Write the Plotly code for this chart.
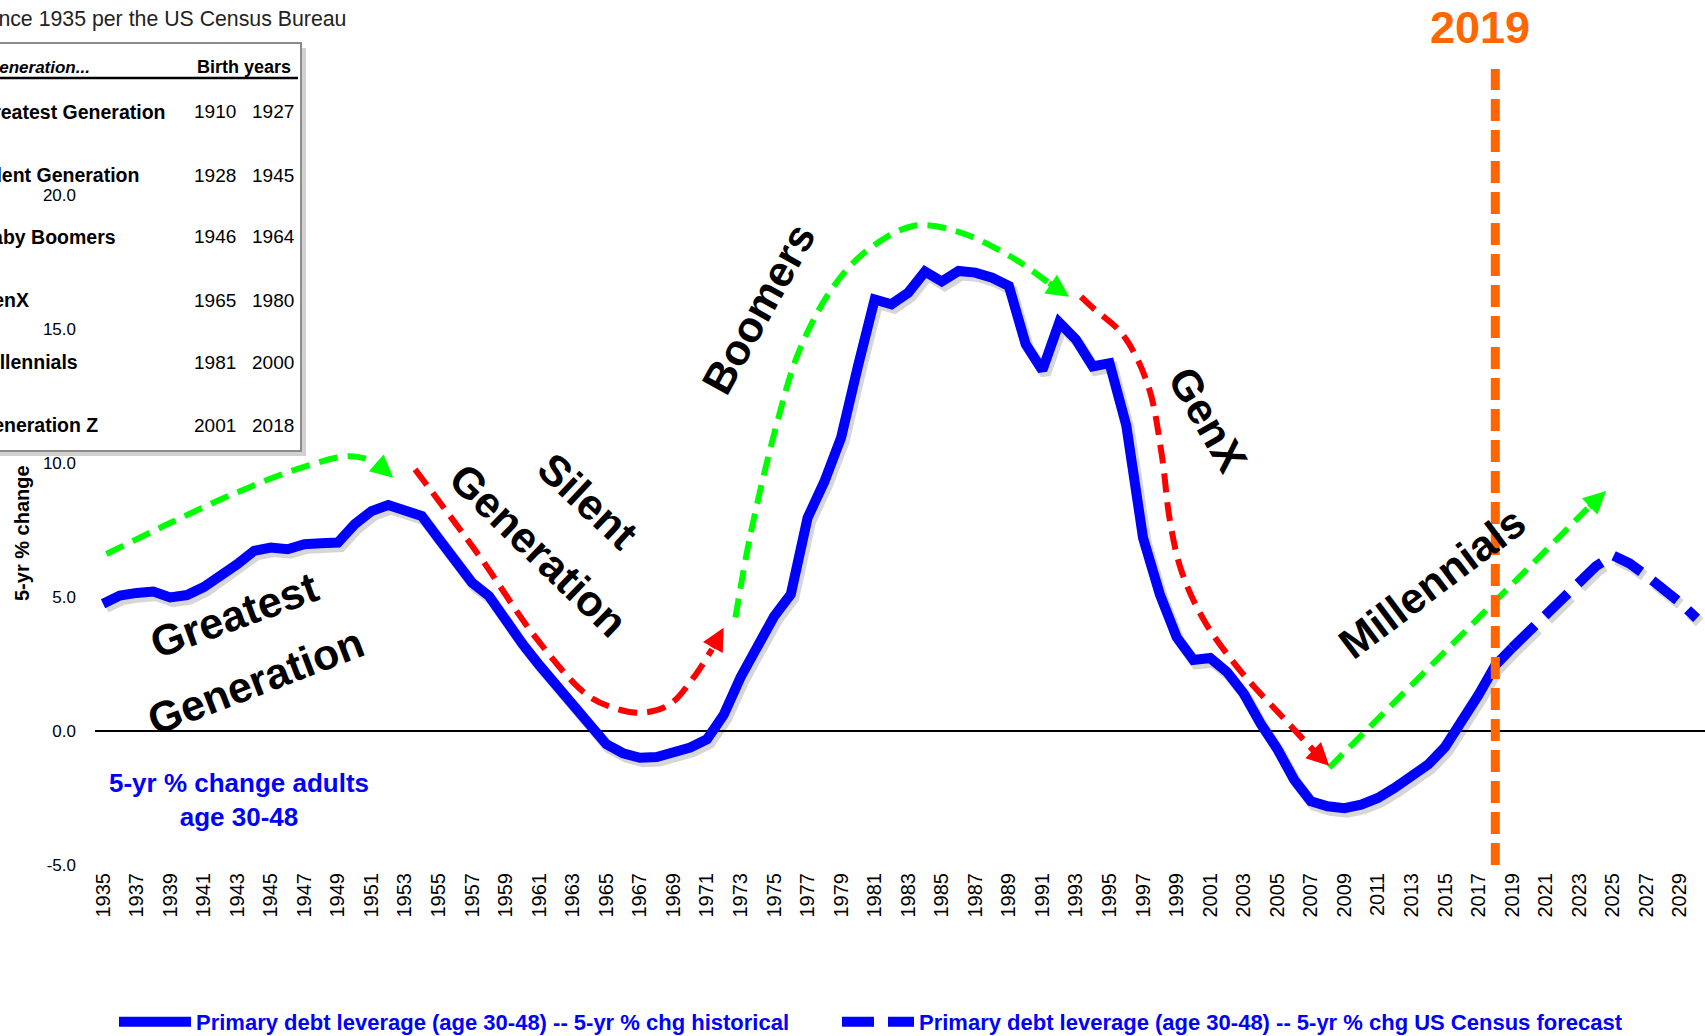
import plotly.graph_objects as go

# ---------------------------------------------------------------------------
# Data: primary debt leverage population (age 30-48), 5-yr % change
# ---------------------------------------------------------------------------
years_hist = list(range(1935, 2020))
debt_leverage_hist = [
    4.75, 5.05, 5.15, 5.20, 4.98, 5.07, 5.37, 5.78, 6.22, 6.72,   # 1935-1944
    6.84, 6.78, 6.97, 7.00, 7.03, 7.71, 8.20, 8.43, 8.20, 8.02,   # 1945-1954
    7.18, 6.33, 5.53, 5.04, 4.07, 3.25, 2.46, 1.72, 0.96, 0.14,   # 1955-1964
    -0.49, -0.83, -1.00, -0.97, -0.81, -0.62, -0.31, 0.60, 2.00, 3.10,  # 1965-1974
    4.27, 5.10, 7.95, 9.30, 10.95, 13.60, 16.10, 15.92, 16.35, 17.14,  # 1975-1984
    16.77, 17.16, 17.10, 16.91, 16.60, 14.43, 13.46, 15.24, 14.60, 13.60,  # 1985-1994
    13.72, 11.40, 7.20, 5.10, 3.50, 2.65, 2.72, 2.20, 1.40, 0.28,  # 1995-2004
    -0.67, -1.81, -2.62, -2.81, -2.88, -2.75, -2.50, -2.12, -1.72, -1.25,  # 2005-2014
    -0.60, 0.30, 1.35, 2.45, 3.10,                                   # 2015-2019
]
years_forecast = list(range(2019, 2031))
debt_leverage_forecast = [3.10, 3.70, 4.40, 4.95, 5.55, 6.15, 6.55, 6.25, 5.80, 5.35, 4.80, 4.20]

tick_years = list(range(1935, 2030, 2))
y_ticks = [-5, 0, 5, 10, 15, 20]
y_tick_text = [f"{v:.1f}" for v in y_ticks]

divider_year = 2018
current_year_label = "2019"

# Generations table
generations = ["Greatest Generation", "Silent Generation", "Baby Boomers",
               "GenX", "Millennials", "Generation Z"]
birth_start = [1910, 1928, 1946, 1965, 1981, 2001]
birth_end = [1927, 1945, 1964, 1980, 2000, 2018]

# Trend arrows: (year, % change) waypoints; last point is the arrow tip
trend_arrows = [
    dict(color="#00FF00",
         years=[1935.2, 1938.8, 1942.8, 1946.7, 1949.7, 1951.2, 1952.3],
         values=[6.60, 7.70, 8.85, 9.80, 10.25, 10.05, 9.45]),
    dict(color="#FF0000",
         years=[1953.6, 1957.5, 1960.8, 1963.8, 1965.4, 1967.2, 1968.8, 1970.2, 1971.3, 1972.0],
         values=[9.76, 6.47, 3.48, 1.37, 0.87, 0.68, 1.00, 1.99, 3.05, 3.85]),
    dict(color="#00FF00",
         years=[1972.7, 1973.6, 1975.1, 1976.5, 1978.5, 1980.5, 1983.3, 1985.9, 1989.1, 1991.3, 1992.6],
         values=[4.23, 7.34, 11.30, 14.18, 16.54, 17.90, 18.84, 18.64, 17.70, 16.75, 16.20]),
    dict(color="#FF0000",
         years=[1993.3, 1994.0, 1995.8, 1997.3, 1998.1, 1998.6, 1999.3, 2000.7, 2002.9, 2005.3, 2007.2, 2008.1],
         values=[16.20, 15.79, 14.78, 12.89, 10.37, 7.85, 5.95, 4.06, 2.17, 0.53, -0.75, -1.30]),
    dict(color="#00FF00",
         years=[2008.1, 2023.5, 2024.6],
         values=[-1.37, 8.30, 8.95]),
]

# Generation names written along the curve: (text, year, value, angle)
generation_labels = [
    ("Greatest", 1942.8, 4.31, -20),
    ("Generation", 1944.1, 1.88, -21),
    ("Silent", 1963.9, 8.57, 43),
    ("Generation", 1960.95, 6.75, 44),
    ("Boomers", 1974.05, 15.76, -61),
    ("GenX", 2000.9, 11.62, 60),
    ("Millennials", 2014.2, 5.53, -37),
]

# ---------------------------------------------------------------------------
# Layout geometry (pixels)
# ---------------------------------------------------------------------------
W, H = 1705, 1036
PLOT_L, PLOT_R, PLOT_T, PLOT_B = 95, 1705, 0, 865
X_RANGE = [1934.52, 2030.5]
Y_RANGE = [-5.0, 27.27]
px_per_year = (PLOT_R - PLOT_L) / (X_RANGE[1] - X_RANGE[0])
px_per_unit = (PLOT_B - PLOT_T) / (Y_RANGE[1] - Y_RANGE[0])


def px(x):
    return (x - PLOT_L) / (PLOT_R - PLOT_L)


def py(y):
    return 1 - (y - PLOT_T) / (PLOT_B - PLOT_T)


SANS = "Liberation Sans, Arial, sans-serif"
BLUE = "#0000FF"
ORANGE = "#FF6600"

fig = go.Figure()

# Soft drop shadow of the main series (drawn on a pixel-shifted copy of the axes)
shadow = dict(color="rgba(0,0,0,0.16)", width=11)
fig.add_trace(go.Scatter(x=years_hist, y=debt_leverage_hist, mode="lines",
                         line=shadow, xaxis="x", yaxis="y",
                         showlegend=False, hoverinfo="skip"))
fig.add_trace(go.Scatter(x=years_forecast, y=debt_leverage_forecast, mode="lines",
                         line=dict(shadow, dash="32px,14px"), xaxis="x", yaxis="y",
                         showlegend=False, hoverinfo="skip"))

# Trend arrows (dashed body)
for arrow in trend_arrows:
    fig.add_trace(go.Scatter(
        x=arrow["years"][:-1], y=arrow["values"][:-1], mode="lines",
        line=dict(color=arrow["color"], width=6, dash="19px,10px", shape="spline"),
        xaxis="x2", yaxis="y2", showlegend=False, hoverinfo="skip"))

# Main series
fig.add_trace(go.Scatter(
    x=years_hist, y=debt_leverage_hist, mode="lines",
    name="Primary debt leverage (age 30-48) -- 5-yr % chg historical",
    line=dict(color=BLUE, width=10), xaxis="x2", yaxis="y2", legend="legend"))
fig.add_trace(go.Scatter(
    x=years_forecast, y=debt_leverage_forecast, mode="lines",
    name="Primary debt leverage (age 30-48) -- 5-yr % chg US Census forecast",
    line=dict(color=BLUE, width=10, dash="32px,14px"), xaxis="x2", yaxis="y2",
    legend="legend2"))

annotations = []

# Arrow heads
for arrow in trend_arrows:
    annotations.append(dict(
        x=arrow["years"][-1], y=arrow["values"][-1],
        ax=arrow["years"][-2], ay=arrow["values"][-2],
        xref="x2", yref="y2", axref="x2", ayref="y2",
        showarrow=True, arrowhead=2, arrowwidth=6, arrowsize=0.75,
        arrowcolor=arrow["color"], standoff=0, text=""))

# Generation names
for text, yr, val, ang in generation_labels:
    annotations.append(dict(
        x=yr, y=val, xref="x2", yref="y2", text=text, textangle=ang,
        showarrow=False, xanchor="center", yanchor="middle",
        font=dict(family=SANS, size=43, color="black", weight="bold")))

# Current-year marker label
annotations.append(dict(
    x=divider_year, y=py(27), xref="x2", yref="paper", xshift=-15,
    text=current_year_label, showarrow=False, xanchor="center", yanchor="middle",
    font=dict(family=SANS, size=45, color=ORANGE, weight="bold")))

# Series description
annotations.append(dict(
    x=px(239), y=py(800), xref="paper", yref="paper",
    text="5-yr % change adults<br>age 30-48", showarrow=False,
    xanchor="center", yanchor="middle", align="center",
    font=dict(family=SANS, size=26, color=BLUE, weight="bold")))

# Y-axis title
annotations.append(dict(
    x=px(22), y=py(533), xref="paper", yref="paper", text="5-yr % change",
    textangle=-90, showarrow=False, xanchor="center", yanchor="middle",
    font=dict(family=SANS, size=20, color="black", weight="bold")))

# Subtitle
annotations.append(dict(
    x=px(348), y=py(19), xref="paper", yref="paper",
    text="since 1935 per the US Census Bureau", showarrow=False,
    xanchor="right", yanchor="middle",
    font=dict(family=SANS, size=21.3, color="#222222")))

# Generations table
TABLE_TEXT_X = -24
annotations.append(dict(
    x=px(TABLE_TEXT_X + 8), y=py(67), xref="paper", yref="paper",
    text="<i>Generation...</i>", showarrow=False, xanchor="left", yanchor="middle",
    font=dict(family=SANS, size=17, color="black", weight="bold")))
annotations.append(dict(
    x=px(244), y=py(67), xref="paper", yref="paper",
    text="Birth years", showarrow=False, xanchor="center", yanchor="middle",
    font=dict(family=SANS, size=18, color="black", weight="bold")))
row_y = [112, 175, 237, 300, 362, 425]
for name, b0, b1, ry in zip(generations, birth_start, birth_end, row_y):
    annotations.append(dict(
        x=px(TABLE_TEXT_X), y=py(ry), xref="paper", yref="paper", text=name,
        showarrow=False, xanchor="left", yanchor="middle",
        font=dict(family=SANS, size=19.5, color="black", weight="bold")))
    annotations.append(dict(
        x=px(215), y=py(ry), xref="paper", yref="paper", text=str(b0),
        showarrow=False, xanchor="center", yanchor="middle",
        font=dict(family=SANS, size=19, color="black")))
    annotations.append(dict(
        x=px(273), y=py(ry), xref="paper", yref="paper", text=str(b1),
        showarrow=False, xanchor="center", yanchor="middle",
        font=dict(family=SANS, size=19, color="black")))

shapes = [
    # table shadow + box
    dict(type="rect", xref="paper", yref="paper", layer="below",
         x0=px(-10), x1=px(306), y0=py(456), y1=py(48),
         fillcolor="rgba(0,0,0,0.18)", line=dict(width=0)),
    dict(type="rect", xref="paper", yref="paper", layer="below",
         x0=px(-10), x1=px(301), y0=py(451), y1=py(43),
         fillcolor="white", line=dict(color="#8C8C8C", width=2)),
    dict(type="line", xref="paper", yref="paper", layer="below",
         x0=px(-10), x1=px(298), y0=py(78), y1=py(78),
         line=dict(color="black", width=2.5)),
    # current-year divider
    dict(type="line", xref="x2", yref="y2", layer="above",
         x0=divider_year, x1=divider_year, y0=Y_RANGE[0], y1=24.7,
         line=dict(color=ORANGE, width=9, dash="22px,9px")),
]

shadow_dx = 3 / px_per_year
shadow_dy = 4 / px_per_unit

legend_style = dict(orientation="h", xanchor="left", y=py(1022), yanchor="middle",
                    font=dict(family=SANS, size=22, color=BLUE, weight="bold"),
                    itemwidth=72, bgcolor="rgba(0,0,0,0)", borderwidth=0)

fig.update_layout(
    width=W, height=H,
    margin=dict(l=PLOT_L, r=W - PLOT_R, t=PLOT_T, b=H - PLOT_B, pad=0,
                autoexpand=False),
    paper_bgcolor="white", plot_bgcolor="rgba(0,0,0,0)",
    showlegend=True,
    legend=dict(legend_style, x=px(114)),
    legend2=dict(legend_style, x=px(837)),
    xaxis=dict(range=[X_RANGE[0] - shadow_dx, X_RANGE[1] - shadow_dx],
               visible=False, fixedrange=True),
    yaxis=dict(range=[Y_RANGE[0] + shadow_dy, Y_RANGE[1] + shadow_dy],
               visible=False, fixedrange=True),
    xaxis2=dict(range=X_RANGE, overlaying="x", anchor="y2", side="bottom",
                tickmode="array", tickvals=tick_years,
                ticktext=[str(t) for t in tick_years], tickangle=-90,
                tickfont=dict(family=SANS, size=20, color="black"),
                showgrid=False, zeroline=False, showline=False, ticks="",
                ticklabelstandoff=3, fixedrange=True, automargin=False),
    yaxis2=dict(range=Y_RANGE, overlaying="y", anchor="x2", side="left",
                tickmode="array", tickvals=y_ticks, ticktext=y_tick_text,
                tickfont=dict(family=SANS, size=17, color="black"),
                showgrid=False, zeroline=True, zerolinecolor="black",
                zerolinewidth=2, showline=False, ticks="",
                ticklabelstandoff=18, fixedrange=True, automargin=False),
    annotations=annotations,
    shapes=shapes,
)

fig.write_html("out.html")
